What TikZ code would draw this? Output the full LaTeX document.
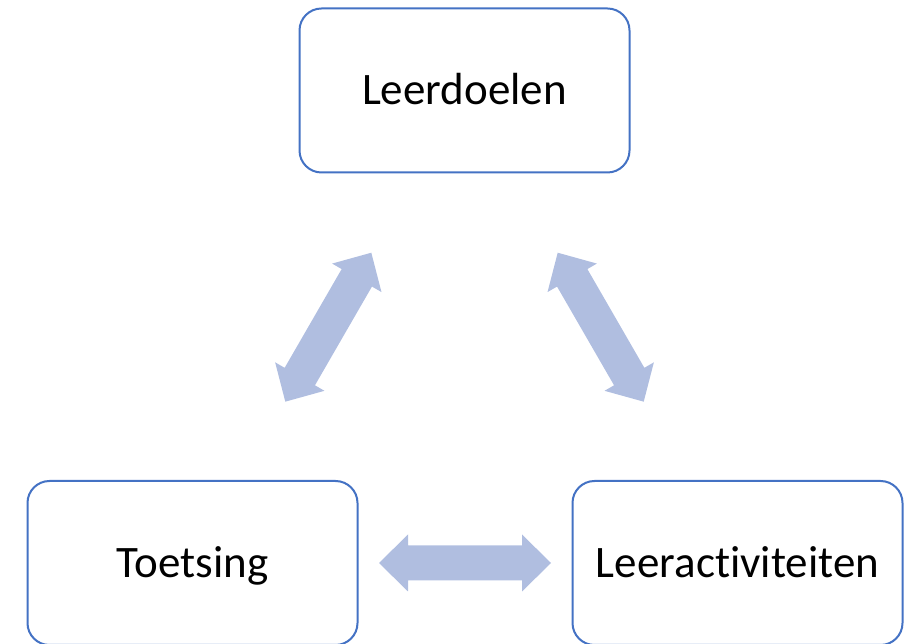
\documentclass[tikz,border=0pt]{standalone}
\usepackage{fontspec}
\setmainfont[Ligatures={NoCommon,NoRequired,NoContextual},RawFeature={-liga;-calt;-clig;-dlig}]{Carlito}
\newcommand{\tisep}{t\kern0pt i}
\begin{document}
\begin{tikzpicture}[x=1pt,y=1pt,
  box/.style={draw=boxblue, line width=2pt, rounded corners=22pt, fill=white,
    minimum width=330pt, minimum height=164pt, inner sep=0pt,
    text height=29pt, text depth=0pt,
    font=\fontsize{45}{52}\selectfont},
  dblarrow/.pic={\fill[arrowfill] (-86,0) -- (-57,28.5) -- (-57,17.5) -- (57,17.5)
      -- (57,28.5) -- (86,0) -- (57,-28.5) -- (57,-17.5) -- (-57,-17.5)
      -- (-57,-28.5) -- cycle;}]
\definecolor{boxblue}{RGB}{68,114,196}
\definecolor{arrowfill}{RGB}{176,190,224}
\useasboundingbox (0,0) rectangle (917,644);
\node[box] (goals) at (464.5,553.5) {Leerdoelen};
\node[box] (test) at (192.5,81) {Toetsing};
\node[box] (act) at (737.5,81) {Leerac\tisep viteiten};
\pic at (465,81) {dblarrow};
\pic[rotate=60] at (328.3,316.8) {dblarrow};
\pic[rotate=-60] at (600.7,316.8) {dblarrow};
\end{tikzpicture}
\end{document}
